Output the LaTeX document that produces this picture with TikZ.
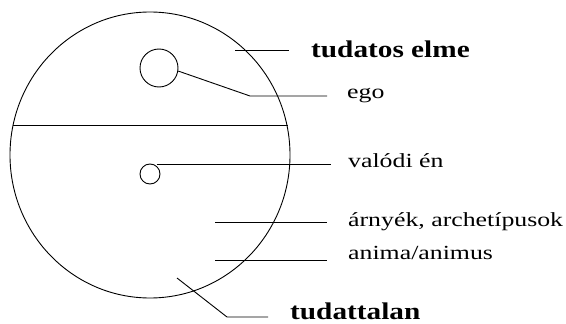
\documentclass[tikz,border=0pt]{standalone}
\usepackage{fontspec}
\setmainfont{Liberation Serif}
\newfontfamily\labelfont[FakeStretch=1.29]{Liberation Serif}
\newfontfamily\titlefont[FakeStretch=1.22]{Liberation Serif Bold}
\usetikzlibrary{shapes.geometric}

\begin{document}
\begin{tikzpicture}[
  x=1pt,y=-1pt,
  ring/.style={draw,line width=.9pt,inner sep=0pt},
  lbl/.style={anchor=base west,inner sep=0pt,font=\labelfont\fontsize{20}{22}\selectfont},
  head/.style={anchor=base west,inner sep=0pt,font=\titlefont\fontsize{24}{26}\selectfont},
  lead/.style={line width=.9pt}
]
\useasboundingbox (0,0) rectangle (566,324);
% psyche
\node[ring,ellipse,minimum width=280,minimum height=286] (mind) at (150,155) {};
\node[ring,circle,minimum size=38] (ego) at (159,68) {};
\node[ring,circle,minimum size=20] (self) at (150,174) {};
% labels
\node[head] (conscious) at (311,57) {tudatos elme};
\node[lbl] (egolbl) at (347,98) {ego};
\node[lbl] (selflbl) at (348,167) {valódi én};
\node[lbl] (shadow) at (348,226) {árnyék, archetípusok};
\node[lbl] (anima) at (348,259) {anima/animus};
\node[head] (unconscious) at (290,319) {tudattalan};
% leader ends
\coordinate (c1) at (235,50);  \coordinate (c2) at (289,50);
\coordinate (e1) at (250,96);  \coordinate (e2) at (327,96);
\coordinate (v2) at (331,164);
\coordinate (s1) at (215,222); \coordinate (s2) at (327,222);
\coordinate (a1) at (215,260); \coordinate (a2) at (327,260);
\coordinate (u1) at (177,278); \coordinate (u2) at (227,317); \coordinate (u3) at (268,317);
% lines
\draw[lead] (mind.168) -- (mind.12);
\draw[lead] (c1) -- (c2);
\draw[lead] (ego.-9) -- (e1) -- (e2);
\draw[lead] (self.50 |- v2) -- (v2);
\draw[lead] (s1) -- (s2);
\draw[lead] (a1) -- (a2);
\draw[lead] (u1) -- (u2) -- (u3);
\end{tikzpicture}
\end{document}
